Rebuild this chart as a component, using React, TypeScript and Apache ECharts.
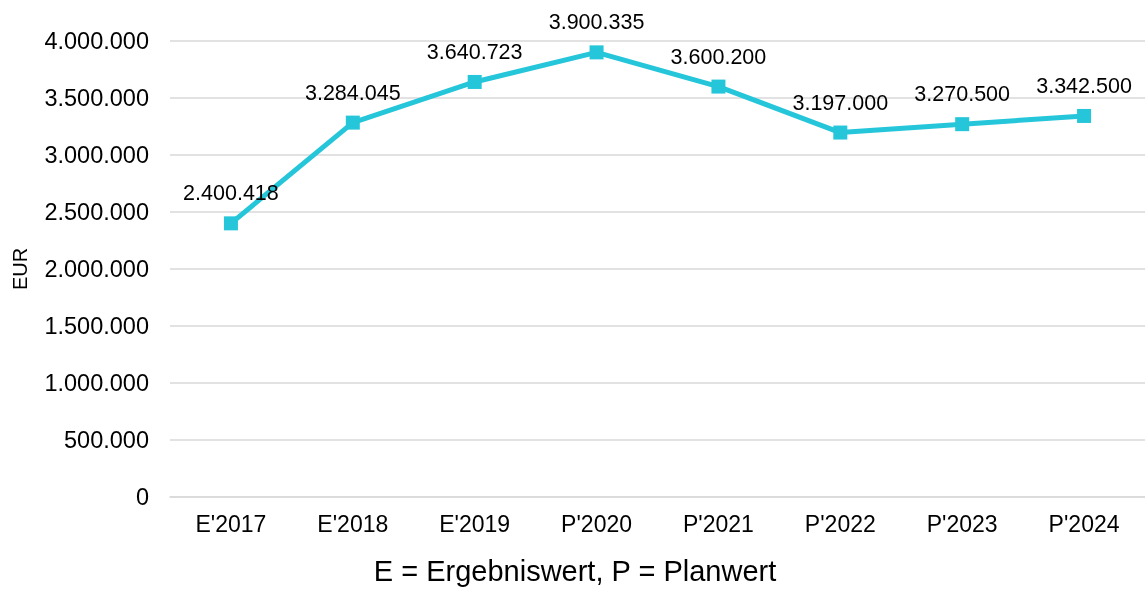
import React, { useEffect, useRef } from "react";
import * as echarts from "echarts";

const categories = ["E'2017", "E'2018", "E'2019", "P'2020", "P'2021", "P'2022", "P'2023", "P'2024"];
const values = [2400418, 3284045, 3640723, 3900335, 3600200, 3197000, 3270500, 3342500];
const yTicks = [0, 500000, 1000000, 1500000, 2000000, 2500000, 3000000, 3500000, 4000000];
const yAxisName = "EUR";
const footnote = "E = Ergebniswert, P = Planwert";

const fmt = (v: number) => String(Math.round(v)).replace(/\B(?=(\d{3})+(?!\d))/g, ".");

export default function App() {
  const ref = useRef<HTMLDivElement>(null);
  useEffect(() => {
    if (!ref.current) return;
    const chart = echarts.init(ref.current, undefined, { renderer: "svg" });
    const font = "'Liberation Sans', Arial, sans-serif";
    chart.setOption({
      animation: false,
      textStyle: { fontFamily: font },
      grid: { left: 170, right: 0, top: 41, bottom: 92, containLabel: false, outerBoundsMode: "none" },
      xAxis: {
        type: "category",
        data: categories,
        boundaryGap: true,
        axisLine: { show: true, lineStyle: { color: "#d9d9d9", width: 1.5 } },
        axisTick: { show: false },
        axisLabel: { color: "#000", fontSize: 23, margin: 15, fontFamily: font },
      },
      yAxis: {
        type: "value",
        min: yTicks[0],
        max: yTicks[yTicks.length - 1],
        interval: 500000,
        name: yAxisName,
        nameLocation: "middle",
        nameGap: 140,
        nameTextStyle: { color: "#000", fontSize: 20, fontFamily: font },
        axisLine: { show: false },
        axisTick: { show: false },
        axisLabel: { color: "#000", fontSize: 23.5, margin: 21, fontFamily: font, formatter: (v: number) => fmt(v) },
        splitLine: { lineStyle: { color: "#d9d9d9", width: 1.5 } },
      },
      graphic: [
        {
          type: "text",
          x: 575,
          y: 571,
          style: {
            text: footnote,
            fill: "#000",
            font: `29px ${font}`,
            textAlign: "center",
            textVerticalAlign: "middle",
          },
        },
      ],
      series: [
        {
          type: "line",
          data: values,
          lineStyle: { color: "#26c6da", width: 5 },
          itemStyle: { color: "#26c6da" },
          symbol: "rect",
          symbolSize: 14,
          label: {
            show: true,
            position: "top",
            distance: 12,
            color: "#000",
            fontSize: 21.5,
            fontFamily: font,
            formatter: (p: any) => fmt(p.value),
          },
        },
      ],
    });
    return () => chart.dispose();
  }, []);
  return (
    <div style={{ position: "fixed", left: 0, top: 0, width: 1145, height: 589, margin: 0 }}>
      <div ref={ref} style={{ width: 1145, height: 589 }} />
    </div>
  );
}
